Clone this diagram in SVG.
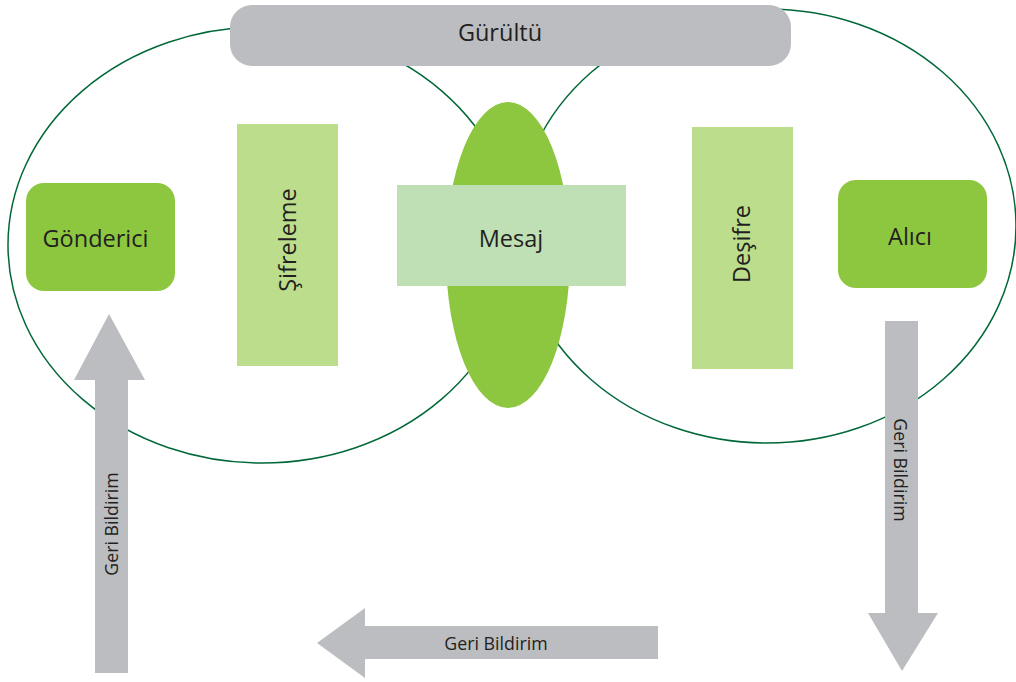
<svg xmlns="http://www.w3.org/2000/svg" width="1016" height="682" viewBox="0 0 1016 682">
<style>
.ring{fill:none;stroke:#006838;stroke-width:1.5}
.gray{fill:#bcbdc0}
.green{fill:#8dc63f}
.light{fill:#bcdd8c}
.pale{fill:#bfe0b5}
.lbl{font-family:"Open Sans","Noto Sans",sans-serif;font-size:23.5px;fill:#231f20;text-anchor:middle}
.small{font-family:"Open Sans","Noto Sans",sans-serif;font-size:17.8px;fill:#231f20;text-anchor:middle}
</style>
<rect width="1016" height="682" fill="#ffffff"/>
<g id="sender-field"><ellipse class="ring" cx="262" cy="245" rx="254" ry="218"/></g>
<g id="receiver-field"><ellipse class="ring" cx="767" cy="226" rx="249" ry="217"/></g>
<g id="noise">
<rect class="gray" x="230" y="5" width="561" height="61" rx="22"/>
<text class="lbl" x="500" y="41">Gürültü</text>
</g>
<g id="channel"><ellipse class="green" cx="508" cy="255" rx="62" ry="153"/></g>
<g id="message">
<rect class="pale" x="397" y="185" width="229" height="101"/>
<text class="lbl" x="511" y="247">Mesaj</text>
</g>
<g id="sender">
<rect class="green" x="26" y="183" width="149" height="108" rx="18"/>
<text class="lbl" x="95.5" y="247">Gönderici</text>
</g>
<g id="encoding">
<rect class="light" x="237" y="124" width="101" height="242"/>
<text class="lbl" transform="translate(296,240) rotate(-90)">Şifreleme</text>
</g>
<g id="decoding">
<rect class="light" x="692" y="127" width="101" height="242"/>
<text class="lbl" transform="translate(750,244) rotate(-90)">Deşifre</text>
</g>
<g id="receiver">
<rect class="green" x="838" y="180" width="149" height="108" rx="18"/>
<text class="lbl" x="910" y="245">Alıcı</text>
</g>
<g id="connectors">
<g id="feedback-down">
<polygon class="gray" points="885,321 918,321 918,613 938,613 902,671 868,613 885,613"/>
<text class="small" transform="translate(894,470) rotate(90)">Geri Bildirim</text>
</g>
<g id="feedback-left">
<polygon class="gray" points="658,626 658,659 365,659 365,678 317,643 365,608 365,626"/>
<text class="small" x="496" y="650">Geri Bildirim</text>
</g>
<g id="feedback-up">
<polygon class="gray" points="95,673 128,673 128,380 145,380 109,314 74,380 95,380"/>
<text class="small" transform="translate(118,524) rotate(-90)">Geri Bildirim</text>
</g>
</g>
</svg>
